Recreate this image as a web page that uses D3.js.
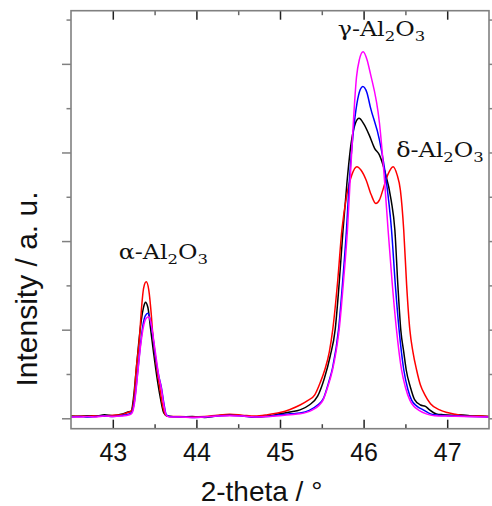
<!DOCTYPE html>
<html>
<head>
<meta charset="utf-8">
<script src="https://cdnjs.cloudflare.com/ajax/libs/d3/7.8.5/d3.min.js"></script>
<style>
  body { margin: 0; background: #fff; }
  svg { display: block; }
</style>
</head>
<body>
<div id="chart"></div>
<script>
// tick values
const xMajor = [43, 44, 45, 46, 47]
const xMinor = [43.5, 44.5, 45.5, 46.5]
const yMajor = [0, 2, 4, 6, 8]
const yMinor = [1, 3, 5, 7, 9]

// series, [2-theta, intensity]
const black = [
  [42.5,0.05],[42.6,0.04],[42.7,0.06],[42.8,0.05],[42.9,0.08],[43.0,0.06],[43.1,0.09],[43.18,0.14],[43.22,0.16],
  [43.25,0.5],[43.28,1.1],[43.31,1.7],[43.34,2.2],[43.37,2.52],[43.39,2.62],[43.42,2.5],[43.45,2.05],[43.49,1.45],
  [43.53,0.9],[43.57,0.45],[43.61,0.12],[43.65,0.05],[43.8,0.03],[43.95,0.04],[44.1,0.02],[44.25,0.06],[44.4,0.08],
  [44.55,0.06],[44.7,0.03],[44.85,0.05],[45.0,0.1],[45.12,0.14],[45.24,0.19],[45.35,0.3],[45.45,0.5],[45.53,0.9],
  [45.6,1.4],[45.66,2.0],[45.71,3.1],[45.754,4.25],[45.8,5.3],[45.85,6.2],[45.9,6.65],[45.946,6.77],[46.0,6.65],
  [46.07,6.38],[46.13,6.1],[46.19,5.94],[46.25,5.6],[46.33,4.92],[46.374,4.25],[46.41,3.0],[46.445,1.99],[46.48,1.5],
  [46.51,1.09],[46.56,0.7],[46.61,0.42],[46.68,0.3],[46.74,0.27],[46.79,0.19],[46.87,0.1],[46.95,0.08],[47.05,0.07],
  [47.15,0.08],[47.27,0.06],[47.4,0.05],[47.5,0.04]
]
const red = [
  [42.5,0.04],[42.6,0.05],[42.7,0.04],[42.8,0.06],[42.9,0.05],[43.0,0.07],[43.1,0.08],[43.18,0.13],[43.22,0.16],
  [43.25,0.4],[43.28,1.1],[43.32,1.84],[43.34,2.4],[43.37,2.95],[43.40,3.08],[43.43,2.9],[43.46,2.35],[43.48,1.84],
  [43.52,1.2],[43.56,0.71],[43.6,0.25],[43.63,0.08],[43.67,0.04],[43.8,0.04],[43.95,0.03],[44.1,0.04],[44.25,0.07],
  [44.4,0.09],[44.55,0.07],[44.7,0.05],[44.85,0.08],[45.0,0.13],[45.12,0.2],[45.24,0.3],[45.33,0.4],[45.416,0.53],
  [45.48,0.8],[45.535,1.09],[45.59,1.5],[45.63,1.99],[45.69,3.1],[45.74,4.25],[45.8,5.05],[45.86,5.5],[45.92,5.68],
  [45.97,5.6],[46.03,5.38],[46.09,5.05],[46.146,4.85],[46.19,4.93],[46.23,5.15],[46.29,5.5],[46.353,5.68],[46.40,5.5],
  [46.44,5.15],[46.48,4.25],[46.515,3.0],[46.553,2.0],[46.59,1.5],[46.634,1.09],[46.68,0.75],[46.733,0.53],[46.8,0.33],
  [46.91,0.19],[47.0,0.13],[47.1,0.09],[47.27,0.05],[47.4,0.05],[47.5,0.04]
]
const blue = [
  [42.5,0.03],[42.6,0.04],[42.7,0.03],[42.8,0.04],[42.9,0.05],[43.0,0.04],[43.1,0.06],[43.2,0.1],[43.23,0.14],
  [43.26,0.4],[43.30,1.09],[43.33,1.65],[43.36,2.1],[43.39,2.32],[43.42,2.37],[43.45,2.2],[43.48,1.85],[43.51,1.4],
  [43.55,0.95],[43.58,0.71],[43.61,0.35],[43.64,0.08],[43.68,0.04],[43.8,0.03],[43.95,0.02],[44.1,0.03],[44.25,0.05],
  [44.4,0.07],[44.55,0.05],[44.7,0.03],[44.85,0.04],[45.0,0.08],[45.12,0.1],[45.24,0.12],[45.35,0.18],[45.45,0.3],
  [45.52,0.45],[45.58,0.8],[45.63,1.15],[45.70,2.0],[45.75,3.1],[45.795,4.25],[45.83,5.38],[45.874,6.4],[45.92,7.1],
  [45.96,7.42],[45.99,7.49],[46.04,7.35],[46.08,7.03],[46.19,6.28],[46.27,5.38],[46.334,4.25],[46.38,3.0],[46.425,1.99],
  [46.481,1.09],[46.53,0.65],[46.574,0.41],[46.64,0.27],[46.713,0.19],[46.8,0.1],[46.9,0.07],[47.0,0.06],[47.15,0.05],
  [47.3,0.04],[47.5,0.03]
]
const magenta = [
  [42.5,0.03],[42.6,0.03],[42.7,0.04],[42.8,0.03],[42.9,0.05],[43.0,0.04],[43.1,0.05],[43.2,0.08],[43.23,0.12],
  [43.26,0.35],[43.30,1.05],[43.33,1.6],[43.37,2.1],[43.40,2.26],[43.43,2.29],[43.46,2.12],[43.49,1.75],[43.52,1.35],
  [43.55,0.95],[43.58,0.68],[43.61,0.3],[43.64,0.07],[43.68,0.03],[43.8,0.03],[43.95,0.02],[44.1,0.03],[44.25,0.05],
  [44.4,0.06],[44.55,0.05],[44.7,0.03],[44.85,0.04],[45.0,0.06],[45.12,0.08],[45.24,0.1],[45.39,0.19],[45.46,0.28],
  [45.515,0.41],[45.57,0.7],[45.628,1.09],[45.67,1.5],[45.707,1.99],[45.76,3.1],[45.807,4.25],[45.84,5.4],[45.875,6.6],
  [45.915,7.7],[45.95,8.1],[45.994,8.275],[46.04,8.1],[46.08,7.79],[46.19,6.66],[46.25,5.38],[46.293,4.25],[46.34,3.1],
  [46.394,1.99],[46.454,1.09],[46.5,0.7],[46.553,0.41],[46.6,0.27],[46.653,0.19],[46.75,0.1],[46.85,0.06],[47.0,0.05],
  [47.2,0.04],[47.5,0.03]
]

const seriesList = [black, red, blue, magenta]
const seriesColors = ['#000000', '#ff0000', '#0000ff', '#ff00ff']

// peak labels
const labelPre = ['\u03b1-Al', '\u03b3-Al', '\u03b4-Al']
const labelX = [43.07, 45.69, 46.39]
const labelY = [3.6, 8.62, 5.89]

//Dimensions
let margin = {top: 10.7, right: 3, bottom: 77.3, left: 71},
    width = 492 - margin.left - margin.right,
    height = 506 - margin.top - margin.bottom

const svg = d3.select('#chart')
    .append('svg')
    .attr('width', 492)
    .attr('height', 506)

const g = svg.append('g')
    .attr('transform', 'translate(' + margin.left + ',' + margin.top + ')')

// Scale
let x = d3.scaleLinear().domain([42.5, 47.5]).range([0, width])
let y = d3.scaleLinear().domain([-0.235, 9.2]).range([height, 0])

// clip
svg.append('defs').append('clipPath')
    .attr('id', 'plot-clip')
    .append('rect')
    .attr('width', width)
    .attr('height', height)

// lines
let line = d3.line()
    .x(d => x(d[0]))
    .y(d => y(d[1]))
    .curve(d3.curveMonotoneX)

g.append('g')
    .attr('clip-path', 'url(#plot-clip)')
    .selectAll('path')
    .data(seriesList)
    .enter()
    .append('path')
    .attr('d', line)
    .attr('fill', 'none')
    .attr('stroke', (d, i) => seriesColors[i])
    .attr('stroke-width', 1.5)
    .attr('stroke-linejoin', 'round')

// axes, ticks only
function ticks(axis, sel, color) {
    sel.call(axis)
    sel.select('.domain').remove()
    sel.selectAll('.tick line').attr('stroke', color).attr('stroke-width', 1.5)
}

let bottomMajor = g.append('g').attr('transform', 'translate(0,' + height + ')')
ticks(d3.axisBottom(x).tickValues(xMajor).tickSize(-9).tickFormat(d3.format('d')), bottomMajor, '#222')
bottomMajor.selectAll('.tick text')
    .attr('y', 32.3)
    .attr('dy', null)
    .attr('fill', '#111')
    .style('font-family', '"Liberation Sans", Arial, sans-serif')
    .style('font-size', '25px')

ticks(d3.axisBottom(x).tickValues(xMinor).tickSize(-4.5).tickFormat(''),
    g.append('g').attr('transform', 'translate(0,' + height + ')'), '#444')
ticks(d3.axisTop(x).tickValues(xMajor).tickSize(-9).tickFormat(''), g.append('g'), '#222')
ticks(d3.axisTop(x).tickValues(xMinor).tickSize(-4.5).tickFormat(''), g.append('g'), '#666')

ticks(d3.axisLeft(y).tickValues(yMajor).tickSize(9).tickFormat(''), g.append('g'), '#808080')
ticks(d3.axisLeft(y).tickValues(yMinor).tickSize(4.5).tickFormat(''), g.append('g'), '#808080')
ticks(d3.axisRight(y).tickValues(yMajor).tickSize(9).tickFormat(''),
    g.append('g').attr('transform', 'translate(' + width + ',0)'), '#808080')
ticks(d3.axisRight(y).tickValues(yMinor).tickSize(4.5).tickFormat(''),
    g.append('g').attr('transform', 'translate(' + width + ',0)'), '#808080')

// frame
g.append('rect')
    .attr('width', width)
    .attr('height', height)
    .attr('fill', 'none')
    .attr('stroke', '#808080')
    .attr('stroke-width', 1.6)

// peak labels
labelPre.forEach((t, i) => {
    let txt = g.append('text')
        .attr('transform', 'translate(' + x(labelX[i]) + ',' + y(labelY[i]) + ') scale(1.22,1)')
        .style('font-family', '"DejaVu Serif", serif')
        .style('font-size', '19.5px')
        .attr('fill', '#111')
    txt.append('tspan').text(t)
    txt.append('tspan').attr('dy', 5).style('font-size', '13.5px').text('2')
    txt.append('tspan').attr('dy', -5).text('O')
    txt.append('tspan').attr('dy', 5).style('font-size', '13.5px').text('3')
})

// axis titles
svg.append('text')
    .attr('x', 261.5)
    .attr('y', 501)
    .attr('text-anchor', 'middle')
    .attr('fill', '#111')
    .style('font-family', '"Liberation Sans", Arial, sans-serif')
    .style('font-size', '28px')
    .text('2-theta / \u00b0')

svg.append('text')
    .attr('transform', 'translate(37,289) rotate(-90)')
    .attr('text-anchor', 'middle')
    .attr('fill', '#111')
    .style('font-family', '"Liberation Sans", Arial, sans-serif')
    .style('font-size', '30px')
    .text('Intensity / a. u.')
</script>
</body>
</html>
